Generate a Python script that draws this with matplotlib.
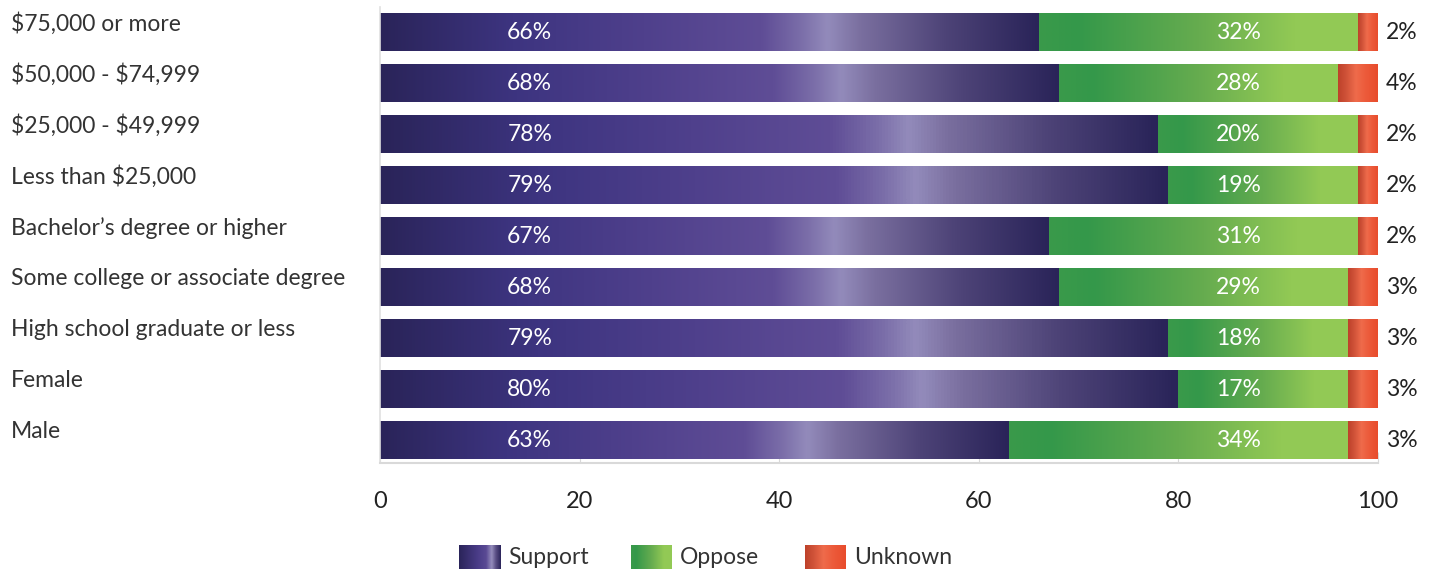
import numpy as np
import matplotlib
matplotlib.use("Agg")
import matplotlib.pyplot as plt
from matplotlib.colors import LinearSegmentedColormap
import matplotlib.transforms as mtransforms

# data, bottom row first
categories = ["Male", "Female", "High school graduate or less",
              "Some college or associate degree", "Bachelor\u2019s degree or higher",
              "Less than $25,000", "$25,000 - $49,999", "$50,000 - $74,999",
              "$75,000 or more"]
support = [63, 80, 79, 68, 67, 79, 78, 68, 66]
oppose = [34, 17, 18, 29, 31, 19, 20, 28, 32]
unknown = [3, 3, 3, 3, 2, 2, 2, 4, 2]
series_names = ["Support", "Oppose", "Unknown"]
xticks = [0, 20, 40, 60, 80, 100]

# gradients
cm_support = LinearSegmentedColormap.from_list("sup", [
    (0.0, "#2a2459"), (0.2, "#3d3480"), (0.4, "#4f408c"), (0.58, "#5f4d96"),
    (0.64, "#7b6ea9"), (0.68, "#938bbb"), (0.73, "#7a6f9f"), (0.86, "#4d4377"),
    (1.0, "#2a2459")])
cm_oppose = LinearSegmentedColormap.from_list("opp", [
    (0.0, "#3a9a4a"), (0.12, "#34984a"), (0.5, "#66ac4f"), (0.8, "#92c955"),
    (1.0, "#93ca56")])
cm_unknown = LinearSegmentedColormap.from_list("unk", [
    (0.0, "#bd412a"), (0.2, "#cf5238"), (0.45, "#ef6b4b"), (0.7, "#ec5a3a"),
    (1.0, "#e84c2c")])
cm_legend_support = LinearSegmentedColormap.from_list("lsup", [
    (0.0, "#2a2459"), (0.45, "#4a3c88"), (0.65, "#5a4a94"), (0.78, "#958dbc"),
    (0.88, "#5a4f85"), (1.0, "#2a2459")])
cmaps = [cm_support, cm_oppose, cm_unknown]
legend_cmaps = [cm_legend_support, cm_oppose, cm_unknown]

label_font = ["Lato", "DejaVu Sans"]

fig = plt.figure(figsize=(14.35, 5.71), dpi=100)
ax = fig.add_axes([380 / 1435, 1 - 463 / 571, 998 / 1435, (463 - 6.5) / 571])

y = np.arange(len(categories))
h = 0.73
grad = np.linspace(0, 1, 256).reshape(1, -1)
lefts = np.zeros(len(categories))
for vals, cmap in zip([support, oppose, unknown], cmaps):
    bars = ax.barh(y, vals, left=lefts, height=h, color="none", edgecolor="none", zorder=2)
    for b in bars:
        x0, y0 = b.get_x(), b.get_y()
        img = ax.imshow(grad, extent=[x0, x0 + b.get_width(), y0, y0 + b.get_height()],
                        aspect="auto", cmap=cmap, interpolation="bilinear", zorder=2)
        img.set_clip_path(b)
    lefts = lefts + np.array(vals)

# value labels
for i in range(len(categories)):
    ax.text(15, y[i], f"{support[i]}%", color="white", ha="center", va="center",
            fontsize=16.5, family=label_font, zorder=3)
    ax.text(86, y[i], f"{oppose[i]}%", color="white", ha="center", va="center",
            fontsize=16.5, family=label_font, zorder=3)
    ax.text(102.4, y[i], f"{unknown[i]}%", color="#222222", ha="center", va="center",
            fontsize=16.5, family=label_font, zorder=3)

# category labels on the left
trans = mtransforms.blended_transform_factory(fig.transFigure, ax.transData)
for i, c in enumerate(categories):
    ax.text(11 / 1435, y[i] + 0.16, c, transform=trans, ha="left", va="center",
            fontsize=16.5, family=label_font, color="#333333", parse_math=False)

ax.set_xlim(0, 100)
ax.set_ylim(-0.45, len(categories) - 0.5)
ax.set_yticks([])
ax.set_xticks(xticks)
ax.set_xticklabels([str(t) for t in xticks], family=label_font,
                   fontsize=17, color="#222222")
ax.tick_params(axis="x", direction="in", length=8, color="#d9d9d9", pad=20)
for s in ["top", "right"]:
    ax.spines[s].set_visible(False)
ax.spines["left"].set_color("#e0e0e0")
ax.spines["bottom"].set_color("#d9d9d9")
ax.spines["left"].set_linewidth(1.2)
ax.spines["bottom"].set_linewidth(1.5)

# legend with gradient swatches
leg_x = [459, 631, 805]
for name, cmap, lx in zip(series_names, legend_cmaps, leg_x):
    sw = fig.add_axes([lx / 1435, 1 - 569 / 571, 41 / 1435, 24 / 571])
    sw.imshow(grad, aspect="auto", cmap=cmap, interpolation="bilinear")
    sw.axis("off")
    fig.text((lx + 49) / 1435, 1 - 557 / 571, name, ha="left", va="center",
             fontsize=16.5, family=label_font, color="#333333")

fig.savefig("out.png", dpi=100)
